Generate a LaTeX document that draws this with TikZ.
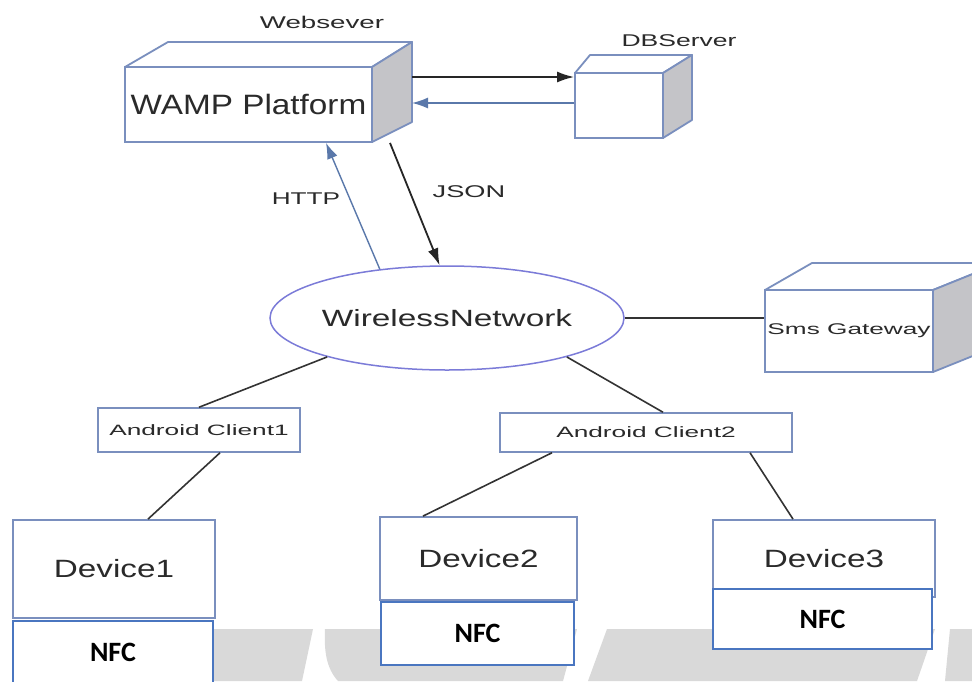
\documentclass[tikz,border=0pt]{standalone}
\usepackage{fontspec}
\usepackage{graphicx}
\setmainfont{Liberation Sans}
\newfontfamily\nfcfont{Carlito}
\usetikzlibrary{shapes.geometric,arrows.meta}
\definecolor{boxblue}{HTML}{7A8FBE}
\definecolor{sidegrey}{HTML}{C4C4C8}
\definecolor{lineblue}{HTML}{5A78AA}
\definecolor{nfcblue}{HTML}{4A76C0}
\definecolor{ellcol}{HTML}{7B7BD8}
\definecolor{txt}{HTML}{2A2A2A}
\definecolor{wm}{HTML}{D9D9D9}
\newcommand\stx[3]{\scalebox{#2}[1]{\fontsize{#1}{#1}\selectfont #3}}
\begin{document}
\begin{tikzpicture}[x=1pt,y=-1pt,
  box/.style={draw=boxblue, line width=1.8pt, fill=white, rectangle, inner sep=0pt, text=txt},
  nfcbox/.style={draw=nfcblue, line width=1.5pt, fill=white, rectangle, inner sep=0pt, text=black, font=\nfcfont\bfseries\fontsize{28}{28}\selectfont},
  face/.style={draw=boxblue, line width=1.8pt, line join=round},
  conn/.style={draw=black!80, line width=1.6pt},
  barrow/.style={draw=black!85, line width=1.8pt, -{Latex[length=17pt,width=11pt]}},
  blarrow/.style={draw=lineblue, line width=1.4pt, -{Latex[length=16pt,width=11pt]}},
  lbl/.style={text=txt, inner sep=0pt}]
\useasboundingbox (0,0) rectangle (972,681);
\clip (0,0) rectangle (972,681);
\fill[white] (0,0) rectangle (972,681);
% watermark band
\fill[wm] (213,629) -- (313,629) -- (302,681) -- (213,681) -- cycle;
\fill[wm] (325,629) -- (577,629) -- (563,681) -- (338,681) .. controls (326,668) and (324,650) .. (325,629) -- cycle;
\fill[wm] (607,629) -- (935,629) -- (917,681) -- (588,681) -- cycle;
\fill[wm] (950,629) -- (972,629) -- (972,681) -- (945,681) -- cycle;

% Webserver box
\node[box, minimum width=247pt, minimum height=75pt] (ws) at (248.5,104.5) {\stx{28}{1.19}{WAMP Platform}};
\filldraw[face, fill=white] (125,67) -- (168,42) -- (412,42) -- (372,67) -- cycle;
\filldraw[face, fill=sidegrey] (372,67) -- (412,42) -- (412,122) -- (372,142) -- cycle;
\node[lbl] (wslbl) at (322,22) {\stx{17}{1.63}{Websever}};
\coordinate (wsside1) at (412,77);
\coordinate (wsside2) at (412,103);

% DB server box
\node[box, minimum width=88pt, minimum height=65pt] (db) at (619,105.5) {};
\filldraw[face, fill=white] (575,73) -- (590,55) -- (692,55) -- (663,73) -- cycle;
\filldraw[face, fill=sidegrey] (663,73) -- (692,55) -- (692,120) -- (663,138) -- cycle;
\node[lbl] (dblbl) at (679,41) {\stx{17}{1.56}{DBServer}};

% Sms gateway box
\node[box, minimum width=168pt, minimum height=82pt] (sms) at (849,331) {\stx{15.5}{1.69}{Sms Gateway}};
\filldraw[face, fill=white] (765,290) -- (812,263) -- (1000,263) -- (933,290) -- cycle;
\filldraw[face, fill=sidegrey] (933,290) -- (1000,263) -- (1000,345) -- (933,372) -- cycle;

% Wireless network
\node[ellipse, draw=ellcol, line width=1.5pt, fill=white, minimum width=350pt, minimum height=104pt, inner sep=0pt, text=txt] (wn) at (447,318) {\stx{23.5}{1.42}{WirelessNetwork}};

% arrows between server, db and network
\draw[barrow] (wsside1) -- (db.west |- wsside1);
\draw[blarrow] (db.west |- wsside2) -- (wsside2);
\draw[blarrow] (wn.144) -- ([xshift=77.5pt]ws.south);
\draw[barrow] ([xshift=141.5pt]ws.south) -- (wn.98);
\node[lbl] (http) at (306,199) {\stx{17}{1.54}{HTTP}};
\node[lbl] (json) at (469,192) {\stx{17}{1.6}{JSON}};
\draw[conn] (wn.east) -- (wn.east -| sms.west);

% clients
\node[box, line width=1.5pt, minimum width=202pt, minimum height=44pt] (ac1) at (199,430) {\stx{15}{1.75}{Android Client1}};
\node[box, line width=1.5pt, minimum width=292pt, minimum height=39pt] (ac2) at (646,432.5) {\stx{15}{1.75}{Android Client2}};

% devices
\node[box, minimum width=202pt, minimum height=98pt] (d1) at (114,569) {\stx{25}{1.33}{Device1}};
\node[box, minimum width=197pt, minimum height=83pt] (d2) at (478.5,558.5) {\stx{25}{1.33}{Device2}};
\node[box, minimum width=222pt, minimum height=77pt] (d3) at (824,558.5) {\stx{25}{1.33}{Device3}};

% NFC boxes
\node[nfcbox, minimum width=200pt, minimum height=63pt] (nfc1) at (113,652.5) {NFC};
\node[nfcbox, minimum width=193pt, minimum height=63pt] (nfc2) at (477.5,633.5) {NFC};
\node[nfcbox, minimum width=219pt, minimum height=60pt] (nfc3) at (822.5,619) {NFC};

% connectors
\draw[conn] (wn.198) -- (ac1.north);
\draw[conn] ([xshift=21pt]ac1.south) -- ([xshift=34pt]d1.north);
\draw[conn] (wn.342) -- ([xshift=17pt]ac2.north);
\draw[conn] ([xshift=-94pt]ac2.south) -- ([xshift=-55.5pt]d2.north);
\draw[conn] ([xshift=104pt]ac2.south) -- ([xshift=-31pt]d3.north);
\end{tikzpicture}
\end{document}
